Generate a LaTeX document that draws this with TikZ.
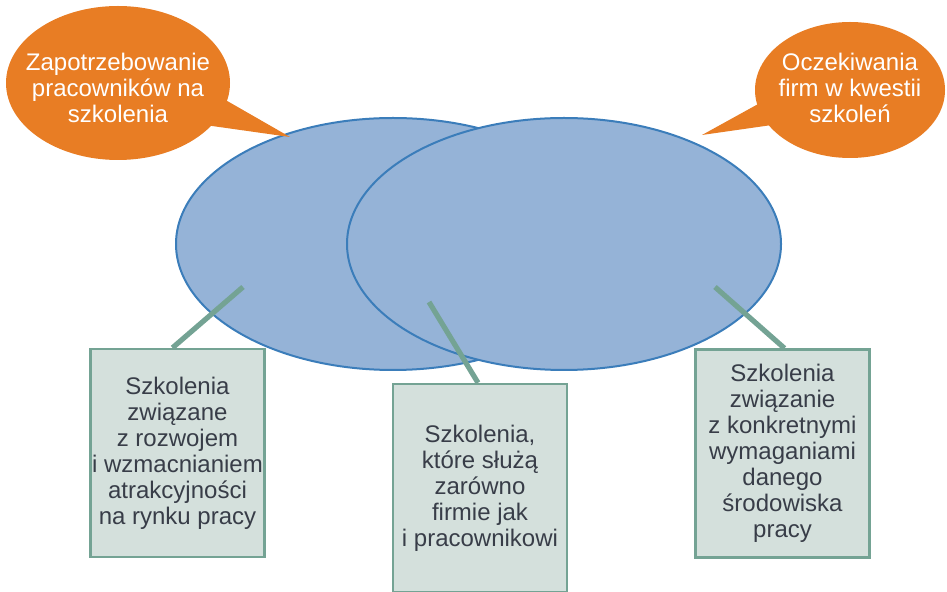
\documentclass[tikz,border=0pt]{standalone}
\usepackage{fontspec}
\setmainfont{Liberation Sans}
\usetikzlibrary{shapes.geometric}
\definecolor{orng}{HTML}{E87D24}
\definecolor{ellfill}{HTML}{95B3D7}
\definecolor{elldraw}{HTML}{3B7DBA}
\definecolor{boxfill}{HTML}{D4E0DC}
\definecolor{boxdraw}{HTML}{74A394}
\definecolor{txt}{HTML}{383D48}
\begin{document}
\begin{tikzpicture}[x=0.5pt,y=-0.5pt,
  venn/.style={ellipse, minimum width=217pt, minimum height=126pt, inner sep=0pt, fill=ellfill, draw=elldraw, line width=1pt},
  bubbletext/.style={inner sep=0pt, text=white, align=center, font=\fontsize{12}{13}\selectfont},
  infobox/.style={rectangle, draw=boxdraw, line width=1.2pt, fill=boxfill, minimum width=87pt, minimum height=104pt, inner sep=0pt, align=center, text=txt, font=\fontsize{12}{13}\selectfont},
  link/.style={draw=boxdraw, line width=2.6pt}]
\useasboundingbox (0,0) rectangle (947,592);

% Venn ellipses (right one opaque on top)
\node[venn] (L) at (393,244) {};
\node[venn] (R) at (564,244) {};

% speech bubbles
\coordinate (BLc) at (118,83);
\coordinate (BLtip) at (290,137);
\fill[orng] (BLc) ellipse [x radius=112, y radius=77];
\fill[orng] (BLtip) -- (222,98) -- (205,125) -- cycle;
\node[bubbletext] (BL) at (118,88) {Zapotrzebowanie\\pracowników na\\szkolenia};

\coordinate (BRc) at (850,90);
\coordinate (BRtip) at (702,135);
\fill[orng] (BRc) ellipse [x radius=95, y radius=68];
\fill[orng] (BRtip) -- (760,103) -- (772,125) -- cycle;
\node[bubbletext] (BR) at (850,88) {Oczekiwania\\firm w kwestii\\szkoleń};

% boxes
\node[infobox] (B1) at (177.5,453) {Szkolenia\\związane\\z rozwojem\\i wzmacnianiem\\atrakcyjności\\na rynku pracy};
\node[infobox] (B2) at (480,488) {Szkolenia,\\które służą\\zarówno\\firmie jak\\i pracownikowi};
\node[infobox] (B3) at (782.5,453.5) {Szkolenia\\związanie\\z konkretnymi\\wymaganiami\\danego\\środowiska\\pracy};

% connectors
\coordinate (c1) at (243,287);
\coordinate (c2) at (429,302);
\coordinate (c3) at (715,287);
\draw[link] (c1) -- ([xshift=-2.5pt]B1.north);
\draw[link] (c2) -- ([xshift=-1pt]B2.north);
\draw[link] (c3) -- ([xshift=1pt]B3.north);
\end{tikzpicture}
\end{document}
